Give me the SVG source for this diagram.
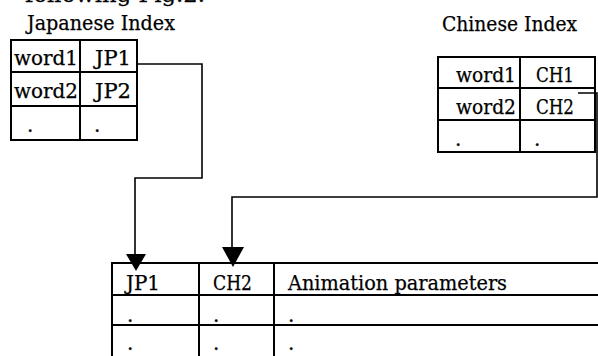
<svg xmlns="http://www.w3.org/2000/svg" width="598" height="356" viewBox="0 0 598 356">
<defs>
<style>
text{font-family:"DejaVu Serif","Liberation Serif",serif;font-size:20px;fill:#000;stroke:#000;stroke-width:0.25}
.t{fill:none;stroke:#000;stroke-width:2}
.c{fill:none;stroke:#000;stroke-width:1.6}
.a{fill:#000;stroke:none}
</style>
</defs>
<rect width="598" height="356" fill="#fff"/>
<text x="25" y="2" textLength="180" lengthAdjust="spacingAndGlyphs">following Fig.2.</text>
<g id="japanese-index">
<text x="27" y="30" textLength="148" lengthAdjust="spacingAndGlyphs">Japanese Index</text>
<text x="14" y="65" textLength="64" lengthAdjust="spacingAndGlyphs">word1</text>
<text x="95" y="65" textLength="36" lengthAdjust="spacingAndGlyphs">JP1</text>
<text x="14" y="98" textLength="64" lengthAdjust="spacingAndGlyphs">word2</text>
<text x="95" y="98" textLength="36" lengthAdjust="spacingAndGlyphs">JP2</text>
<text x="27" y="132">.</text>
<text x="94" y="132">.</text>
<path class="t" d="M11 40H137V140H11Z M11 72H137 M11 106H137 M80 40V140"/>
</g>
<g id="chinese-index">
<text x="442" y="31" textLength="135" lengthAdjust="spacingAndGlyphs">Chinese Index</text>
<text x="456" y="82" textLength="60" lengthAdjust="spacingAndGlyphs">word1</text>
<text x="536" y="82" textLength="38" lengthAdjust="spacingAndGlyphs">CH1</text>
<text x="456" y="114" textLength="60" lengthAdjust="spacingAndGlyphs">word2</text>
<text x="536" y="114" textLength="38" lengthAdjust="spacingAndGlyphs">CH2</text>
<text x="455" y="146">.</text>
<text x="534" y="146">.</text>
<path class="t" d="M438 57H595V152H438Z M438 88H595 M438 120H595 M520 57V152"/>
</g>
<g id="animation-table">
<text x="126" y="290" textLength="34" lengthAdjust="spacingAndGlyphs">JP1</text>
<text x="213" y="290" textLength="39" lengthAdjust="spacingAndGlyphs">CH2</text>
<text x="288" y="290" textLength="219" lengthAdjust="spacingAndGlyphs">Animation parameters</text>
<text x="127" y="322">.</text>
<text x="213" y="322">.</text>
<text x="288" y="322">.</text>
<text x="127" y="350">.</text>
<text x="213" y="350">.</text>
<text x="288" y="350">.</text>
<path class="t" d="M600 263H112V360 M112 295H600 M112 325H600 M199 263V360 M274 263V360"/>
</g>
<g id="connectors">
<path class="c" d="M137 64H202V178H135V256"/>
<polygon class="a" points="126,254 146,254 136,271"/>
<path class="c" d="M578 93H597V197H232V249"/>
<polygon class="a" points="222,247 244,247 233,267"/>
</g>
</svg>
